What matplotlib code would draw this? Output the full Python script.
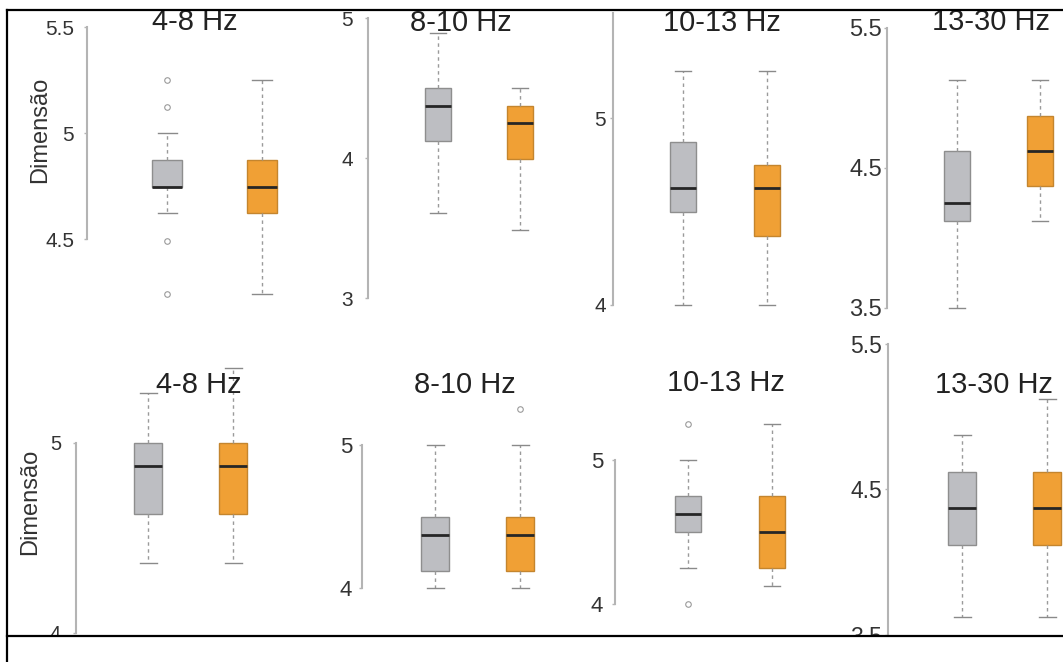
import matplotlib
matplotlib.use("Agg")
import matplotlib.pyplot as plt
from matplotlib.lines import Line2D
from matplotlib.patches import Rectangle

plt.rcParams['font.family'] = ['Liberation Sans', 'DejaVu Sans']

# ---------------- data ----------------
bands = ['4-8 Hz', '8-10 Hz', '10-13 Hz', '13-30 Hz']
ylabel = 'Dimensão'

# panel order: top row (4 bands) then bottom row (4 bands)
gray_whislo = [4.625, 3.61, 4.0, 3.5, 4.37, 4.0, 4.25, 3.625]
gray_q1 = [4.745, 4.12, 4.5, 4.125, 4.625, 4.12, 4.5, 4.12]
gray_med = [4.745, 4.375, 4.625, 4.25, 4.875, 4.37, 4.625, 4.37]
gray_q3 = [4.873, 4.5, 4.873, 4.625, 5.0, 4.495, 4.75, 4.62]
gray_whishi = [5.0, 4.89, 5.25, 5.125, 5.26, 5.0, 5.0, 4.872]
gray_fliers = [[5.25, 5.125, 4.49, 4.24], [], [], [], [], [], [5.25, 4.0], []]

orange_whislo = [4.24, 3.485, 4.0, 4.124, 4.37, 4.0, 4.125, 3.625]
orange_q1 = [4.625, 3.99, 4.37, 4.375, 4.625, 4.12, 4.25, 4.12]
orange_med = [4.745, 4.25, 4.625, 4.625, 4.875, 4.37, 4.5, 4.37]
orange_q3 = [4.873, 4.37, 4.75, 4.875, 5.0, 4.495, 4.75, 4.62]
orange_whishi = [5.25, 4.5, 5.25, 5.128, 5.39, 5.0, 5.25, 5.12]
orange_fliers = [[], [], [], [], [], [5.25], [], []]

yticks = [[4.5, 5, 5.5], [3, 4, 5], [4, 5], [3.5, 4.5, 5.5],
          [4, 5], [4, 5], [4, 5], [3.5, 4.5, 5.5]]
ytick_labels = [['4.5', '5', '5.5'], ['3', '4', '5'], ['4', '5'], ['3.5', '4.5', '5.5'],
                ['4', '5'], ['4', '5'], ['4', '5'], ['3.5', '4.5', '5.5']]
spine_bounds = [(4.5, 5.5), (3, 5), (4, 5.56), (3.5, 5.5),
                (4, 5), (4, 5), (4, 5), (3.5, 5.5)]

# ---------------- layout (pixels) ----------------
W, H = 1063, 662
# axis_x, right, top, bottom, (v1, p1), (v2, p2), x of box1, x of box2
layout = [
    (87, 300, 10, 320, (5, 133), (4.5, 239), 167, 262),
    (368, 560, 10, 320, (4, 158), (3, 298), 438, 520),
    (613, 810, 10, 320, (5, 118), (4, 305), 683, 767),
    (887, 1063, 10, 320, (4.5, 168), (3.5, 308), 957, 1040),
    (76, 300, 330, 636, (5, 442.7), (4, 633), 148, 233),
    (362, 560, 330, 636, (5, 445), (4, 588.3), 435, 520),
    (615, 810, 330, 636, (5, 460), (4, 604), 688, 772),
    (888, 1063, 330, 636, (4.5, 489.3), (3.5, 635), 962, 1047),
]
tick_size = [15, 15, 15, 17, 14.5, 16, 16, 16.5]
tick_gap_px = [13, 15, 7, 5, 15, 10, 12, 6]
title_pos = [(195, 22), (461, 23), (722, 23), (991, 22),
             (199, 385), (465, 385), (726, 383), (994, 385)]

fig = plt.figure(figsize=(W / 100, H / 100), dpi=100)
fig.patch.set_facecolor('white')

gray_face, gray_edge = '#bdbec2', '#8e8e8e'
orange_face, orange_edge = '#f0a035', '#c4852e'
spine_col = '#b4b4b4'

for i in range(8):
    ax_x, right, top, bottom, (v1, p1), (v2, p2), x1, x2 = layout[i]
    ax = fig.add_axes([ax_x / W, 1 - bottom / H, (right - ax_x) / W, (bottom - top) / H])
    s = (v1 - v2) / (p2 - p1)
    ax.set_ylim(v1 - (bottom - p1) * s, v1 + (p1 - top) * s)
    u = x2 - x1
    ax.set_xlim(1 + (ax_x - x1) / u, 1 + (right - x1) / u)
    ax.patch.set_alpha(0)

    stats = [
        dict(med=gray_med[i], q1=gray_q1[i], q3=gray_q3[i],
             whislo=gray_whislo[i], whishi=gray_whishi[i], fliers=gray_fliers[i]),
        dict(med=orange_med[i], q1=orange_q1[i], q3=orange_q3[i],
             whislo=orange_whislo[i], whishi=orange_whishi[i], fliers=orange_fliers[i]),
    ]
    bp = ax.bxp(stats, positions=[1, 2], widths=0.32, capwidths=0.2,
                patch_artist=True, showfliers=True,
                boxprops=dict(linewidth=1.0),
                medianprops=dict(color='#262626', linewidth=2.0),
                whiskerprops=dict(color='#9a9a9a', linewidth=1.0, linestyle=(0, (2.5, 2.5))),
                capprops=dict(color='#8a8a8a', linewidth=1.0),
                flierprops=dict(marker='o', markersize=4, markerfacecolor='none',
                                markeredgecolor='#9a9a9a', markeredgewidth=0.8))
    for patch, fc, ec in zip(bp['boxes'], [gray_face, orange_face], [gray_edge, orange_edge]):
        patch.set_facecolor(fc)
        patch.set_edgecolor(ec)

    for side in ['top', 'right', 'bottom']:
        ax.spines[side].set_visible(False)
    ax.spines['left'].set_color(spine_col)
    ax.spines['left'].set_linewidth(1.5)
    ax.spines['left'].set_bounds(*spine_bounds[i])
    ax.set_xticks([])
    ax.set_yticks(yticks[i], ytick_labels[i])
    pad_pt = max((tick_gap_px[i] - 2.8) / 1.389, 0.5)
    ax.tick_params(axis='y', length=2, width=1, color=spine_col, pad=pad_pt,
                   labelsize=tick_size[i], labelcolor='#333333')

    tx, ty = title_pos[i]
    fig.text(tx / W, 1 - ty / H, bands[i % 4], ha='center', va='center',
             fontsize=21, color='#222222')

fig.text(40 / W, 1 - 130 / H, ylabel, rotation=90, ha='center', va='center',
         fontsize=17, color='#333333')
fig.text(30 / W, 1 - 502 / H, ylabel, rotation=90, ha='center', va='center',
         fontsize=17, color='#333333')

# white strip below the panels, and the frame lines
fig.patches.append(Rectangle((0, 0), 1, 1 - 636 / H, transform=fig.transFigure,
                             facecolor='white', edgecolor='none', zorder=10))
for (xa, ya, xb, yb) in [(7, 10, 1063, 10), (7, 10, 7, 662), (7, 636, 1063, 636)]:
    fig.lines.append(Line2D([xa / W, xb / W], [1 - ya / H, 1 - yb / H],
                            transform=fig.transFigure, color='black',
                            linewidth=1.6, zorder=11))

fig.savefig('out.png', dpi=100)
